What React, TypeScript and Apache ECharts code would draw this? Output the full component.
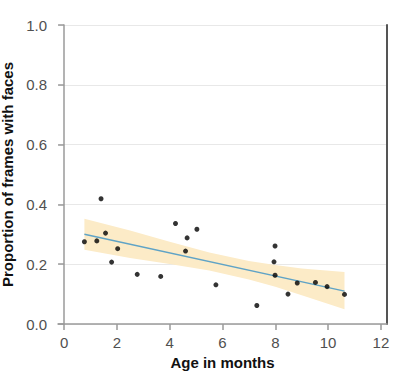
import React, { useEffect, useRef } from "react";
import * as echarts from "echarts";

// Observed points: age in months, proportion of frames with faces
const ageMonths = [0.77, 1.24, 1.4, 1.57, 1.8, 2.03, 2.77, 3.66, 4.22, 4.6, 4.66, 5.03, 5.75, 7.3, 7.99, 7.95, 7.99, 8.48, 8.83, 9.52, 9.96, 10.62];
const proportion = [0.275, 0.278, 0.419, 0.304, 0.207, 0.252, 0.166, 0.159, 0.336, 0.244, 0.288, 0.317, 0.131, 0.062, 0.261, 0.208, 0.163, 0.1, 0.137, 0.139, 0.125, 0.099];

// Fitted line (end points)
const fitX = [0.77, 10.62];
const fitY = [0.3, 0.11];

// Confidence band
const bandX = [0.77, 2.5, 4, 5.5, 7, 8, 9, 10.62];
const bandUpper = [0.352, 0.313, 0.275, 0.239, 0.211, 0.197, 0.186, 0.174];
const bandLower = [0.248, 0.221, 0.201, 0.179, 0.149, 0.125, 0.096, 0.049];

const xTicks = [0, 2, 4, 6, 8, 10, 12];

export default function App() {
  const ref = useRef<HTMLDivElement>(null);
  useEffect(() => {
    if (!ref.current) return;
    const chart = echarts.init(ref.current, undefined, { renderer: "svg" });
    const font = "Liberation Sans, Arial, sans-serif";
    chart.setOption({
      animation: false,
      backgroundColor: "#ffffff",
      grid: { left: 58, right: 13, top: 25, bottom: 49, containLabel: false, outerBoundsMode: "none" },
      xAxis: {
        type: "value",
        min: -0.23,
        max: 12.23,
        name: "Age in months",
        nameLocation: "middle",
        nameGap: 30,
        nameTextStyle: { fontFamily: font, fontWeight: "bold", fontSize: 15, color: "#111" },
        axisLine: { show: true, onZero: false, lineStyle: { color: "#9a9a9a", width: 1.5 } },
        axisTick: { show: true, length: 6, customValues: xTicks, lineStyle: { color: "#9a9a9a", width: 1.5 } },
        axisLabel: { customValues: xTicks, fontFamily: font, fontSize: 15, color: "#505050", margin: 11 },
        splitLine: { show: false },
      },
      yAxis: [
        {
          type: "value",
          min: 0,
          max: 1,
          interval: 0.2,
          name: "Proportion of frames with faces",
          nameLocation: "middle",
          nameGap: 38,
          nameTextStyle: { fontFamily: font, fontWeight: "bold", fontSize: 15, color: "#111" },
          axisLine: { show: true, lineStyle: { color: "#9a9a9a", width: 1.5 } },
          axisTick: { show: true, length: 6, lineStyle: { color: "#9a9a9a", width: 1.5 } },
          axisLabel: { fontFamily: font, fontSize: 15, color: "#505050", margin: 11, formatter: (v: number) => v.toFixed(1) },
          splitLine: { show: true, lineStyle: { color: "#e8e8e8", width: 1 } },
        },
        {
          type: "value",
          min: 0,
          max: 1,
          position: "right",
          axisLine: { show: true, lineStyle: { color: "#555", width: 2 } },
          axisTick: { show: false },
          axisLabel: { show: false },
          splitLine: { show: false },
        },
      ],
      series: [
        {
          type: "custom",
          z: 1,
          silent: true,
          data: bandX.map((x, i) => [x, bandLower[i], bandUpper[i]]),
          renderItem: (params: any, api: any) => {
            if (params.dataIndex !== 0) return null;
            const pts: number[][] = [];
            for (let i = 0; i < bandX.length; i++) pts.push(api.coord([bandX[i], bandUpper[i]]));
            for (let i = bandX.length - 1; i >= 0; i--) pts.push(api.coord([bandX[i], bandLower[i]]));
            return { type: "polygon", shape: { points: pts }, style: { fill: "#fcebc7", stroke: "none" } };
          },
        },
        {
          type: "line",
          z: 2,
          data: fitX.map((x, i) => [x, fitY[i]]),
          symbol: "none",
          lineStyle: { color: "#5fa3c6", width: 1.5 },
        },
        {
          type: "scatter",
          z: 3,
          data: ageMonths.map((x, i) => [x, proportion[i]]),
          symbolSize: 5,
          itemStyle: { color: "#000" },
        },
      ],
    });
    return () => chart.dispose();
  }, []);
  return <div ref={ref} style={{ position: "fixed", left: 0, top: 0, width: 400, height: 373 }} />;
}
